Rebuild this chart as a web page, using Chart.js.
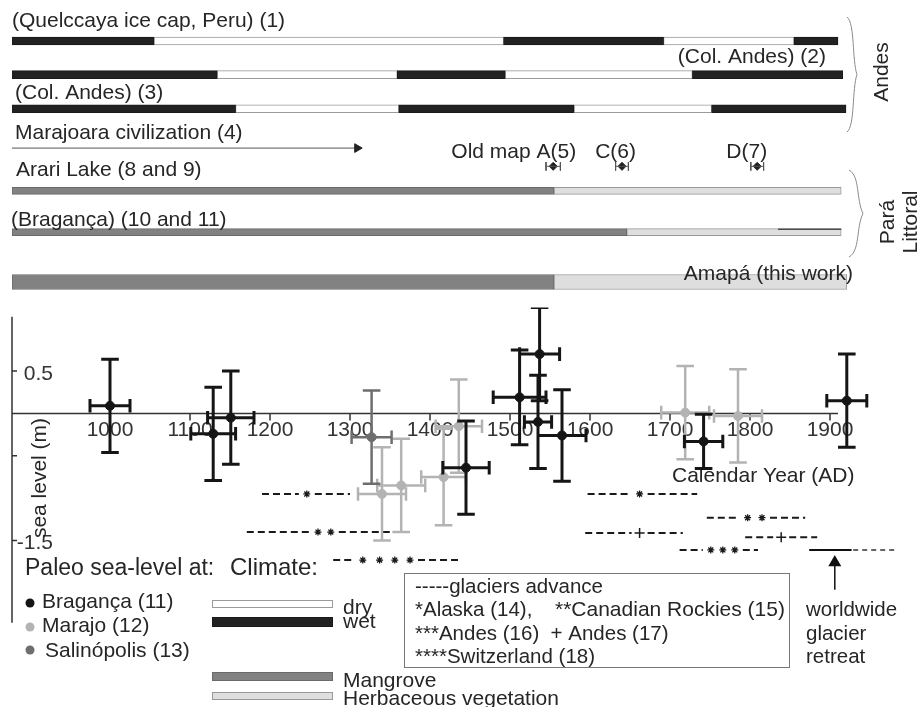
<!DOCTYPE html>
<html>
<head>
<meta charset="utf-8">
<script src="https://cdn.jsdelivr.net/npm/chart.js@4.4.0/dist/chart.umd.min.js"></script>
<style>
  html, body { margin: 0; padding: 0; background: #fff; }
  #wrap { position: relative; width: 920px; height: 707px; overflow: hidden; }
  #topChart { position: absolute; left: 0; top: 0; }
  #seaChart { position: absolute; left: 0; top: 300px; }
</style>
</head>
<body>
<div id="wrap">
  <canvas id="topChart" width="920" height="300"></canvas>
  <canvas id="seaChart" width="920" height="407"></canvas>
</div>
<script>
// ---- records above the plot (years where the state changes) ----
const quelccayaYears = [877.5, 1055, 1492, 1692, 1855, 1910];   // wet, dry, wet, dry, wet
const colAndes2Years = [877.5, 1134, 1359, 1494, 1728, 1916];
const colAndes3Years = [877.5, 1157, 1361, 1580, 1752, 1920];
const arariYears = [877.5, 1555, 1914];      // mangrove, herbaceous
const bragancaYears = [877.5, 1646, 1914];
const bragancaTopLine = [1835, 1914];
const amapaYears = [877.5, 1555, 1921];
const marajoaraYears = [877.5, 1309];
const oldMapLabels = ['Old map A(5)', 'C(6)', 'D(7)'];
const oldMapYears = [1554, 1640, 1809];
const oldMapSpread = [9, 8, 8];

// ---- paleo sea level (m) ----
const bragancaYear = [1000, 1129, 1151, 1445, 1512, 1537, 1535, 1565, 1742, 1921];
const bragancaLevel = [0.09, -0.24, -0.05, -0.64, 0.19, 0.70, -0.10, -0.26, -0.33, 0.15];
const bragancaLevelErr = [0.55, 0.55, 0.55, 0.55, 0.56, 0.55, 0.55, 0.54, 0.32, 0.55];
const bragancaYearErr = [25, 28, 29, 29, 33, 25, 17, 30, 24, 25];

const marajoYear = [1340, 1364, 1417, 1436, 1719, 1785];
const marajoLevel = [-0.95, -0.85, -0.75, -0.15, 0.01, -0.03];
const marajoLevelErr = [0.55, 0.55, 0.57, 0.55, 0.55, 0.55];
const marajoYearErr = [30, 30, 28, 29, 30, 30];

const salinopolisYear = [1327];
const salinopolisLevel = [-0.28];
const salinopolisLevelErr = [0.55];
const salinopolisYearErr = [25];

// ---- glacier advances ----
const glacierFrom = [1190, 1171, 1279, 1597, 1746, 1594, 1794, 1712];
const glacierTo = [1300, 1371, 1437, 1734, 1869, 1716, 1884, 1810];
const glacierLevel = [-0.95, -1.40, -1.73, -0.95, -1.23, -1.41, -1.46, -1.61];
const glacierMarks = [[1246], [1260, 1276], [1316, 1337, 1356, 1375], [1662], [1797, 1815], [1662], [1839], [1751, 1766, 1781]];
const glacierSymbol = ['star', 'star', 'star', 'star', 'star', 'cross', 'cross', 'star'];
const retreatSolid = [1874, 1927];
const retreatDashed = [1929, 1984];
const retreatLevel = -1.61;
const retreatArrowYear = 1906;
const retreatArrowLevels = [-2.08, -1.76];

// axes
const yearTicks = [1000, 1100, 1200, 1300, 1400, 1500, 1600, 1700, 1800, 1900];
const levelTicks = [0.5, -0.5, -1.5];
const levelTickLabels = ['0.5', '', '-1.5'];

const ink = '#262626';
const font = "21px 'Liberation Sans', Arial, sans-serif";
const wetColor = '#222222', dryColor = '#ffffff';
const mangroveColor = '#828282', herbColor = '#dedede';
const xRange = {min: 877.5, max: 1987.5};
const framePadding = {left: 12, right: 20, top: 0, bottom: 0};

// lanes of the upper panel (scale runs 0..30 top to bottom)
const lane = {quelccaya: 3.65, colAndes2: 7.15, colAndes3: 10.7, marajoara: 14.8, oldMap: 16.7, arari: 19.25, braganca: 23.55, amapa: 28.75};

function alternating(years, laneY, evenKind, kind) {
  const out = [];
  for (let i = 0; i < years.length - 1; i++) {
    const isEven = i % 2 === 0;
    if ((kind === evenKind) === isEven) out.push({x: [years[i], years[i + 1]], y: laneY});
  }
  return out;
}
const wetBars = [
  ...alternating(quelccayaYears, lane.quelccaya, 'wet', 'wet'),
  ...alternating(colAndes2Years, lane.colAndes2, 'wet', 'wet'),
  ...alternating(colAndes3Years, lane.colAndes3, 'wet', 'wet')
];
const dryBars = [
  ...alternating(quelccayaYears, lane.quelccaya, 'wet', 'dry'),
  ...alternating(colAndes2Years, lane.colAndes2, 'wet', 'dry'),
  ...alternating(colAndes3Years, lane.colAndes3, 'wet', 'dry')
];
const mangroveBars = [
  ...alternating(arariYears, lane.arari, 'm', 'm'),
  ...alternating(bragancaYears, lane.braganca, 'm', 'm')
];
const herbBars = [
  ...alternating(arariYears, lane.arari, 'm', 'h'),
  ...alternating(bragancaYears, lane.braganca, 'm', 'h')
];

function oldMapSegments() {
  const out = [];
  const tick = 0.45;
  oldMapYears.forEach((yr, i) => {
    const a = yr - oldMapSpread[i], b = yr + oldMapSpread[i], l = lane.oldMap;
    out.push({x: a, y: l}, {x: b, y: l}, {x: b, y: null});
    out.push({x: a, y: l - tick}, {x: a, y: l + tick}, {x: a, y: null});
    out.push({x: b, y: l - tick}, {x: b, y: l + tick}, {x: b, y: null});
  });
  return out;
}

function barSet(data, fill, edge, thickness) {
  return {
    type: 'bar', indexAxis: 'y', data, grouped: false, barThickness: thickness,
    backgroundColor: fill, borderColor: edge, borderWidth: 1, borderSkipped: false
  };
}

function drawBrace(ctx, x, y1, y2, w) {
  const ym = (y1 + y2) / 2;
  ctx.beginPath();
  ctx.moveTo(x, y1);
  ctx.bezierCurveTo(x + w * 0.8, y1 + 6, x + w * 0.5, ym - 14, x + w, ym);
  ctx.bezierCurveTo(x + w * 0.5, ym + 14, x + w * 0.8, y2 - 6, x, y2);
  ctx.stroke();
}

const topDecor = {
  id: 'topDecor',
  afterDatasetsDraw(chart) {
    const {ctx, scales: {x, y}} = chart;
    ctx.save();
    ctx.fillStyle = ink;
    ctx.font = font;
    ctx.textBaseline = 'alphabetic';
    ctx.textAlign = 'left';
    const left = x.getPixelForValue(xRange.min);
    ctx.fillText('(Quelccaya ice cap, Peru) (1)', left, 27);
    ctx.fillText('(Col. Andes) (3)', left + 3, 99);
    ctx.fillText('Marajoara civilization (4)', left + 3, 139);
    ctx.fillText('Arari Lake (8 and 9)', left + 4, 176);
    ctx.fillText('(Bragança) (10 and 11)', left - 1, 226);
    ctx.textAlign = 'right';
    ctx.fillText('(Col. Andes) (2)', 826, 63);
    ctx.fillText('Amapá (this work)', 853, 280);
    const mapShift = [23, 14, 10];
    oldMapLabels.forEach((t, i) => {
      ctx.fillText(t, x.getPixelForValue(oldMapYears[i]) + mapShift[i], 158);
    });
    // braces
    ctx.strokeStyle = '#8a8a8a';
    ctx.lineWidth = 1;
    drawBrace(ctx, 847, 17, 132, 10);
    drawBrace(ctx, 849, 170, 257, 14);
    // rotated group names
    ctx.textAlign = 'center';
    ctx.textBaseline = 'middle';
    [['Andes', 882, 72], ['Pará', 888, 222], ['Littoral', 911, 222]].forEach(([t, cx, cy]) => {
      ctx.save();
      ctx.translate(cx, cy);
      ctx.rotate(-Math.PI / 2);
      ctx.fillText(t, 0, 0);
      ctx.restore();
    });
    ctx.restore();
  }
};

new Chart(document.getElementById('topChart'), {
  type: 'bar',
  data: {
    datasets: [
      {
        type: 'line', data: bragancaTopLine.map(v => ({x: v, y: lane.braganca - 0.3})),
        borderColor: '#111', borderWidth: 1, pointRadius: 0
      },
      barSet(wetBars, wetColor, '#1a1a1a', 8),
      barSet(dryBars, dryColor, '#9a9a9a', 8),
      barSet(mangroveBars, mangroveColor, '#6a6a6a', 7),
      barSet(herbBars, herbColor, '#9a9a9a', 7),
      barSet(alternating(amapaYears, lane.amapa, 'm', 'm'), mangroveColor, '#6a6a6a', 15),
      barSet(alternating(amapaYears, lane.amapa, 'm', 'h'), herbColor, '#9a9a9a', 15),
      {
        type: 'line',
        data: marajoaraYears.map(v => ({x: v, y: lane.marajoara})),
        borderColor: '#555', borderWidth: 1,
        pointRadius: [0, 5], pointStyle: 'triangle', pointRotation: 90,
        pointBackgroundColor: '#222', pointBorderColor: '#222'
      },
      {
        type: 'line', data: oldMapSegments(), spanGaps: false,
        borderColor: '#555', borderWidth: 1, pointRadius: 0
      },
      {
        type: 'line', showLine: false,
        data: oldMapYears.map(v => ({x: v, y: lane.oldMap})),
        pointStyle: 'rectRot', pointRadius: 4,
        pointBackgroundColor: '#222', pointBorderColor: '#222'
      }
    ]
  },
  options: {
    responsive: false,
    animation: false,
    events: [],
    layout: {padding: framePadding},
    plugins: {legend: {display: false}, tooltip: {enabled: false}},
    scales: {
      x: {type: 'linear', min: xRange.min, max: xRange.max, display: false, offset: false},
      y: {type: 'linear', min: 0, max: 30, reverse: true, display: false, offset: false}
    }
  },
  plugins: [topDecor]
});

// ---- lower panel ----
const capYears = 11;
const capMetres = 0.08;
const markGap = 10;

function errorSegments(years, levels, levelErr, yearErr) {
  const out = [];
  const seg = (x1, y1, x2, y2) => out.push({x: x1, y: y1}, {x: x2, y: y2}, {x: x2, y: null});
  years.forEach((yr, i) => {
    const lv = levels[i], e = levelErr[i], h = yearErr[i];
    seg(yr, lv - e, yr, lv + e);
    seg(yr - capYears, lv + e, yr + capYears, lv + e);
    seg(yr - capYears, lv - e, yr + capYears, lv - e);
    seg(yr - h, lv, yr + h, lv);
    seg(yr - h, lv - capMetres, yr - h, lv + capMetres);
    seg(yr + h, lv - capMetres, yr + h, lv + capMetres);
  });
  return out;
}

function glacierDashes() {
  const out = [];
  glacierFrom.forEach((from, i) => {
    const m = glacierMarks[i], lv = glacierLevel[i];
    out.push({x: from, y: lv}, {x: m[0] - markGap, y: lv}, {x: m[0], y: null});
    out.push({x: m[m.length - 1] + markGap, y: lv}, {x: glacierTo[i], y: lv}, {x: glacierTo[i], y: null});
  });
  return out;
}

function glacierSymbols(kind) {
  const out = [];
  glacierMarks.forEach((m, i) => {
    if (glacierSymbol[i] === kind) m.forEach(v => out.push({x: v, y: glacierLevel[i]}));
  });
  return out;
}

function errorSet(data, color, width, order) {
  return {type: 'line', data, spanGaps: false, borderColor: color, borderWidth: width, pointRadius: 0, order};
}
function dotSet(xs, ys, color, order) {
  return {
    type: 'line', showLine: false, data: xs.map((v, i) => ({x: v, y: ys[i]})),
    pointRadius: 4.5, pointBackgroundColor: color, pointBorderColor: color, order
  };
}

const seaDecor = {
  id: 'seaDecor',
  beforeDatasetsDraw(chart) {
    const {ctx, scales: {x, y}} = chart;
    const x0 = x.getPixelForValue(xRange.min);
    const y0 = y.getPixelForValue(0);
    ctx.save();
    ctx.strokeStyle = '#333';
    ctx.lineWidth = 1.5;
    ctx.beginPath();
    ctx.moveTo(x0, y.getPixelForValue(1.14));
    ctx.lineTo(x0, y.getPixelForValue(-2.47));
    ctx.moveTo(x0, y0);
    ctx.lineTo(x.getPixelForValue(1910), y0);
    yearTicks.forEach(t => {
      const px = x.getPixelForValue(t);
      ctx.moveTo(px, y0);
      ctx.lineTo(px, y0 + 7);
    });
    levelTicks.forEach(t => {
      const py = y.getPixelForValue(t);
      ctx.moveTo(x0, py);
      ctx.lineTo(x0 + 5, py);
    });
    ctx.stroke();
    ctx.fillStyle = '#333';
    ctx.font = font;
    ctx.textAlign = 'center';
    ctx.textBaseline = 'alphabetic';
    yearTicks.forEach(t => ctx.fillText(String(t), x.getPixelForValue(t), y0 + 23));
    ctx.textAlign = 'right';
    ctx.textBaseline = 'middle';
    levelTicks.forEach((t, i) => ctx.fillText(levelTickLabels[i], 53, y.getPixelForValue(t) + 3));
    ctx.textAlign = 'left';
    ctx.textBaseline = 'alphabetic';
    ctx.fillStyle = ink;
    ctx.fillText('Calendar Year (AD)', 672, 182);
    ctx.save();
    ctx.translate(40, 178);
    ctx.rotate(-Math.PI / 2);
    ctx.textAlign = 'center';
    ctx.textBaseline = 'middle';
    ctx.fillText('sea level (m)', 0, 0);
    ctx.restore();
    ctx.restore();
  },
  afterDatasetsDraw(chart) {
    const {ctx} = chart;
    ctx.save();
    ctx.fillStyle = ink;
    ctx.textBaseline = 'alphabetic';
    ctx.textAlign = 'left';
    // sea-level legend
    ctx.font = "23px 'Liberation Sans', Arial, sans-serif";
    ctx.fillText('Paleo sea-level at:', 25, 275);
    ctx.font = "24px 'Liberation Sans', Arial, sans-serif";
    ctx.fillText('Climate:', 230, 275);
    ctx.font = font;
    [['Bragança (11)', '#151515', 303, 308, 42], ['Marajo (12)', '#b3b3b3', 327, 332, 42], ['Salinópolis (13)', '#6e6e6e', 350, 357, 45]]
      .forEach(([t, c, dy, ty, tx]) => {
        ctx.fillStyle = c;
        ctx.beginPath();
        ctx.arc(30, dy, 4.5, 0, Math.PI * 2);
        ctx.fill();
        ctx.fillStyle = ink;
        ctx.fillText(t, tx, ty);
      });
    // climate / vegetation legend
    [[dryColor, '#9a9a9a', 300, 8, 'dry', 314], [wetColor, '#1a1a1a', 317, 10, 'wet', 328],
     [mangroveColor, '#6a6a6a', 372, 9, 'Mangrove', 387], [herbColor, '#9a9a9a', 392, 8, 'Herbaceous vegetation', 405]]
      .forEach(([f, s, top, h, t, base]) => {
        ctx.fillStyle = f;
        ctx.fillRect(212, top, 121, h);
        ctx.strokeStyle = s;
        ctx.lineWidth = 1;
        ctx.strokeRect(212.5, top + 0.5, 120, h - 1);
        ctx.fillStyle = ink;
        ctx.fillText(t, 343, base);
      });
    // glacier box
    ctx.strokeStyle = '#777';
    ctx.lineWidth = 1;
    ctx.strokeRect(404.5, 273.5, 385, 94);
    ctx.font = "20.5px 'Liberation Sans', Arial, sans-serif";
    ctx.fillText('-----glaciers advance', 415, 293);
    ctx.fillText('*Alaska (14),', 415, 316);
    ctx.fillText('***Andes (16)  + Andes (17)', 415, 340);
    ctx.fillText('****Switzerland (18)', 415, 363);
    ctx.fillText('worldwide', 806, 316);
    ctx.fillText('glacier', 806, 340);
    ctx.fillText('retreat', 806, 363);
    ctx.font = font;
    ctx.fillText('**Canadian Rockies (15)', 555, 316);
    ctx.restore();
  }
};

new Chart(document.getElementById('seaChart'), {
  type: 'line',
  data: {
    datasets: [
      errorSet(errorSegments(marajoYear, marajoLevel, marajoLevelErr, marajoYearErr), '#b3b3b3', 2.5, 6),
      dotSet(marajoYear, marajoLevel, '#b3b3b3', 5),
      errorSet(errorSegments(salinopolisYear, salinopolisLevel, salinopolisLevelErr, salinopolisYearErr), '#6e6e6e', 2.5, 4),
      dotSet(salinopolisYear, salinopolisLevel, '#6e6e6e', 3),
      errorSet(errorSegments(bragancaYear, bragancaLevel, bragancaLevelErr, bragancaYearErr), '#151515', 3, 2),
      dotSet(bragancaYear, bragancaLevel, '#151515', 1),
      {
        type: 'line', data: glacierDashes(), spanGaps: false, borderColor: '#1a1a1a',
        borderWidth: 2, borderDash: [7, 4], pointRadius: 0, order: 7
      },
      {
        type: 'line', showLine: false, data: glacierSymbols('star'), pointStyle: 'star',
        pointRadius: 3.5, pointBorderColor: '#1a1a1a', pointBorderWidth: 1.3, order: 7
      },
      {
        type: 'line', showLine: false, data: glacierSymbols('cross'), pointStyle: 'cross',
        pointRadius: 5, pointBorderColor: '#1a1a1a', pointBorderWidth: 1.5, order: 7
      },
      {
        type: 'line', data: retreatSolid.map(v => ({x: v, y: retreatLevel})),
        borderColor: '#111', borderWidth: 2, pointRadius: 0, order: 7
      },
      {
        type: 'line', data: retreatDashed.map(v => ({x: v, y: retreatLevel})), clip: false,
        borderColor: '#333', borderWidth: 1.5, borderDash: [5, 4], pointRadius: 0, order: 7
      },
      {
        type: 'line', data: retreatArrowLevels.map(v => ({x: retreatArrowYear, y: v})),
        borderColor: '#111', borderWidth: 1.5, order: 7,
        pointRadius: [0, 6], pointStyle: 'triangle', pointBackgroundColor: '#111', pointBorderColor: '#111'
      }
    ]
  },
  options: {
    responsive: false,
    animation: false,
    events: [],
    layout: {padding: framePadding},
    plugins: {legend: {display: false}, tooltip: {enabled: false}},
    scales: {
      x: {type: 'linear', min: xRange.min, max: xRange.max, display: false},
      y: {type: 'linear', min: -3.375, max: 1.25, display: false}
    }
  },
  plugins: [seaDecor]
});
</script>
</body>
</html>
